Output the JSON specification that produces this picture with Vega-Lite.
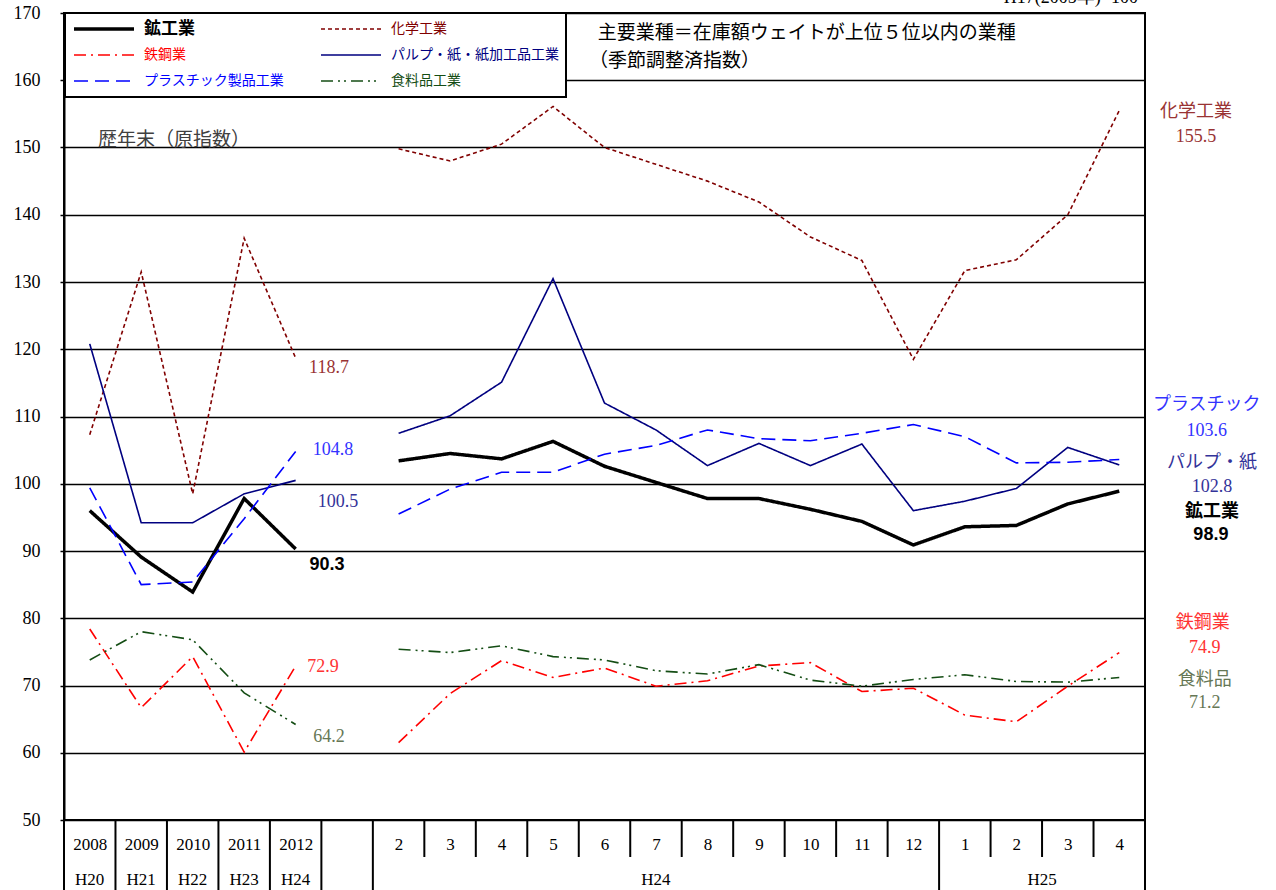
{
  "$schema": "https://vega.github.io/schema/vega-lite/v6.json",
  "width": 1081,
  "height": 807,
  "autosize": {"type": "none"},
  "padding": {"left": 64, "top": 13, "right": 131, "bottom": 70},
  "background": "white",
  "config": {"view": {"stroke": "black", "strokeWidth": 2}, "font": "Liberation Serif", "axis": {"labelFont": "Liberation Serif, Times New Roman, serif"}},
  "datasets": {
    "lines": [
      {"s":"鉱工業","g":"a","x":0,"v":96.0},{"s":"鉱工業","g":"a","x":1,"v":89.1},{"s":"鉱工業","g":"a","x":2,"v":83.9},{"s":"鉱工業","g":"a","x":3,"v":97.8},{"s":"鉱工業","g":"a","x":4,"v":90.3},
      {"s":"鉱工業","g":"m","x":6,"v":103.4},{"s":"鉱工業","g":"m","x":7,"v":104.5},{"s":"鉱工業","g":"m","x":8,"v":103.7},{"s":"鉱工業","g":"m","x":9,"v":106.3},{"s":"鉱工業","g":"m","x":10,"v":102.6},{"s":"鉱工業","g":"m","x":11,"v":100.2},{"s":"鉱工業","g":"m","x":12,"v":97.8},{"s":"鉱工業","g":"m","x":13,"v":97.8},{"s":"鉱工業","g":"m","x":14,"v":96.2},{"s":"鉱工業","g":"m","x":15,"v":94.4},{"s":"鉱工業","g":"m","x":16,"v":90.9},{"s":"鉱工業","g":"m","x":17,"v":93.6},{"s":"鉱工業","g":"m","x":18,"v":93.8},{"s":"鉱工業","g":"m","x":19,"v":97.0},{"s":"鉱工業","g":"m","x":20,"v":98.9},
      {"s":"化学工業","g":"a","x":0,"v":107.3},{"s":"化学工業","g":"a","x":1,"v":131.5},{"s":"化学工業","g":"a","x":2,"v":98.5},{"s":"化学工業","g":"a","x":3,"v":136.5},{"s":"化学工業","g":"a","x":4,"v":118.7},
      {"s":"化学工業","g":"m","x":6,"v":149.8},{"s":"化学工業","g":"m","x":7,"v":148.0},{"s":"化学工業","g":"m","x":8,"v":150.5},{"s":"化学工業","g":"m","x":9,"v":156.1},{"s":"化学工業","g":"m","x":10,"v":150.0},{"s":"化学工業","g":"m","x":11,"v":147.5},{"s":"化学工業","g":"m","x":12,"v":145.0},{"s":"化学工業","g":"m","x":13,"v":141.9},{"s":"化学工業","g":"m","x":14,"v":136.7},{"s":"化学工業","g":"m","x":15,"v":133.2},{"s":"化学工業","g":"m","x":16,"v":118.5},{"s":"化学工業","g":"m","x":17,"v":131.7},{"s":"化学工業","g":"m","x":18,"v":133.3},{"s":"化学工業","g":"m","x":19,"v":140.0},{"s":"化学工業","g":"m","x":20,"v":155.5},
      {"s":"鉄鋼業","g":"a","x":0,"v":78.4},{"s":"鉄鋼業","g":"a","x":1,"v":66.7},{"s":"鉄鋼業","g":"a","x":2,"v":74.3},{"s":"鉄鋼業","g":"a","x":3,"v":60.1},{"s":"鉄鋼業","g":"a","x":4,"v":72.9},
      {"s":"鉄鋼業","g":"m","x":6,"v":61.5},{"s":"鉄鋼業","g":"m","x":7,"v":68.8},{"s":"鉄鋼業","g":"m","x":8,"v":73.7},{"s":"鉄鋼業","g":"m","x":9,"v":71.2},{"s":"鉄鋼業","g":"m","x":10,"v":72.6},{"s":"鉄鋼業","g":"m","x":11,"v":69.9},{"s":"鉄鋼業","g":"m","x":12,"v":70.7},{"s":"鉄鋼業","g":"m","x":13,"v":72.9},{"s":"鉄鋼業","g":"m","x":14,"v":73.4},{"s":"鉄鋼業","g":"m","x":15,"v":69.1},{"s":"鉄鋼業","g":"m","x":16,"v":69.6},{"s":"鉄鋼業","g":"m","x":17,"v":65.6},{"s":"鉄鋼業","g":"m","x":18,"v":64.6},{"s":"鉄鋼業","g":"m","x":19,"v":69.9},{"s":"鉄鋼業","g":"m","x":20,"v":74.9},
      {"s":"パルプ・紙・紙加工品工業","g":"a","x":0,"v":120.8},{"s":"パルプ・紙・紙加工品工業","g":"a","x":1,"v":94.2},{"s":"パルプ・紙・紙加工品工業","g":"a","x":2,"v":94.2},{"s":"パルプ・紙・紙加工品工業","g":"a","x":3,"v":98.5},{"s":"パルプ・紙・紙加工品工業","g":"a","x":4,"v":100.5},
      {"s":"パルプ・紙・紙加工品工業","g":"m","x":6,"v":107.5},{"s":"パルプ・紙・紙加工品工業","g":"m","x":7,"v":110.1},{"s":"パルプ・紙・紙加工品工業","g":"m","x":8,"v":115.1},{"s":"パルプ・紙・紙加工品工業","g":"m","x":9,"v":130.5},{"s":"パルプ・紙・紙加工品工業","g":"m","x":10,"v":112.0},{"s":"パルプ・紙・紙加工品工業","g":"m","x":11,"v":108.0},{"s":"パルプ・紙・紙加工品工業","g":"m","x":12,"v":102.7},{"s":"パルプ・紙・紙加工品工業","g":"m","x":13,"v":106.0},{"s":"パルプ・紙・紙加工品工業","g":"m","x":14,"v":102.7},{"s":"パルプ・紙・紙加工品工業","g":"m","x":15,"v":105.9},{"s":"パルプ・紙・紙加工品工業","g":"m","x":16,"v":96.0},{"s":"パルプ・紙・紙加工品工業","g":"m","x":17,"v":97.4},{"s":"パルプ・紙・紙加工品工業","g":"m","x":18,"v":99.3},{"s":"パルプ・紙・紙加工品工業","g":"m","x":19,"v":105.4},{"s":"パルプ・紙・紙加工品工業","g":"m","x":20,"v":102.8},
      {"s":"プラスチック製品工業","g":"a","x":0,"v":99.4},{"s":"プラスチック製品工業","g":"a","x":1,"v":85.0},{"s":"プラスチック製品工業","g":"a","x":2,"v":85.4},{"s":"プラスチック製品工業","g":"a","x":3,"v":94.8},{"s":"プラスチック製品工業","g":"a","x":4,"v":104.8},
      {"s":"プラスチック製品工業","g":"m","x":6,"v":95.5},{"s":"プラスチック製品工業","g":"m","x":7,"v":99.2},{"s":"プラスチック製品工業","g":"m","x":8,"v":101.7},{"s":"プラスチック製品工業","g":"m","x":9,"v":101.7},{"s":"プラスチック製品工業","g":"m","x":10,"v":104.4},{"s":"プラスチック製品工業","g":"m","x":11,"v":105.7},{"s":"プラスチック製品工業","g":"m","x":12,"v":108.0},{"s":"プラスチック製品工業","g":"m","x":13,"v":106.7},{"s":"プラスチック製品工業","g":"m","x":14,"v":106.4},{"s":"プラスチック製品工業","g":"m","x":15,"v":107.5},{"s":"プラスチック製品工業","g":"m","x":16,"v":108.8},{"s":"プラスチック製品工業","g":"m","x":17,"v":107.0},{"s":"プラスチック製品工業","g":"m","x":18,"v":103.1},{"s":"プラスチック製品工業","g":"m","x":19,"v":103.2},{"s":"プラスチック製品工業","g":"m","x":20,"v":103.6},
      {"s":"食料品工業","g":"a","x":0,"v":73.8},{"s":"食料品工業","g":"a","x":1,"v":78.0},{"s":"食料品工業","g":"a","x":2,"v":76.8},{"s":"食料品工業","g":"a","x":3,"v":68.9},{"s":"食料品工業","g":"a","x":4,"v":64.2},
      {"s":"食料品工業","g":"m","x":6,"v":75.4},{"s":"食料品工業","g":"m","x":7,"v":74.9},{"s":"食料品工業","g":"m","x":8,"v":75.9},{"s":"食料品工業","g":"m","x":9,"v":74.3},{"s":"食料品工業","g":"m","x":10,"v":73.8},{"s":"食料品工業","g":"m","x":11,"v":72.2},{"s":"食料品工業","g":"m","x":12,"v":71.7},{"s":"食料品工業","g":"m","x":13,"v":73.1},{"s":"食料品工業","g":"m","x":14,"v":70.8},{"s":"食料品工業","g":"m","x":15,"v":69.9},{"s":"食料品工業","g":"m","x":16,"v":70.9},{"s":"食料品工業","g":"m","x":17,"v":71.6},{"s":"食料品工業","g":"m","x":18,"v":70.6},{"s":"食料品工業","g":"m","x":19,"v":70.5},{"s":"食料品工業","g":"m","x":20,"v":71.2}
    ],
    "nc": [
      {"t":"118.7","k":"C","x":4.648,"y":117.21},
      {"t":"104.8","k":"PL","x":4.725,"y":105.02},
      {"t":"100.5","k":"P","x":4.823,"y":97.29},
      {"t":"72.9","k":"S","x":4.531,"y":72.75},
      {"t":"64.2","k":"F","x":4.648,"y":62.34},
      {"t":"化学工業","k":"C","x":21.49,"y":155.28},
      {"t":"155.5","k":"C","x":21.49,"y":151.56},
      {"t":"プラスチック","k":"PL","x":21.70,"y":111.71},
      {"t":"103.6","k":"PL","x":21.70,"y":107.84},
      {"t":"パルプ・紙","k":"P","x":21.80,"y":103.09},
      {"t":"102.8","k":"P","x":21.80,"y":99.52},
      {"t":"鉄鋼業","k":"S","x":21.62,"y":79.29},
      {"t":"74.9","k":"S","x":21.66,"y":75.58},
      {"t":"食料品","k":"F","x":21.66,"y":70.82},
      {"t":"71.2","k":"F","x":21.66,"y":67.40},
      {"t":"H17(2005年)=100","k":"K","x":19.06,"y":172.2}
    ],
    "nb": [
      {"t":"90.3","k":"K","x":4.609,"y":87.92},
      {"t":"鉱工業","k":"K","x":21.80,"y":95.80},
      {"t":"98.9","k":"K","x":21.78,"y":92.38}
    ],
    "nl": [
      {"t":"歴年末（原指数）","k":"N","x":0.16,"y":151.12},
      {"t":"主要業種＝在庫額ウェイトが上位５位以内の業種","k":"K","x":9.87,"y":167.1},
      {"t":"（季節調整済指数）","k":"K","x":9.70,"y":162.9}
    ],
    "eras": [
      {"t":"H20","x":0},{"t":"H21","x":1},{"t":"H22","x":2},{"t":"H23","x":3},{"t":"H24","x":4},{"t":"H24","x":11},{"t":"H25","x":18.5}
    ],
    "shortdiv": [{"b":6.5},{"b":7.5},{"b":8.5},{"b":9.5},{"b":10.5},{"b":11.5},{"b":12.5},{"b":13.5},{"b":14.5},{"b":15.5},{"b":17.5},{"b":18.5},{"b":19.5}],
    "longdiv": [{"b":-0.5},{"b":0.5},{"b":1.5},{"b":2.5},{"b":3.5},{"b":4.5},{"b":5.5},{"b":16.5},{"b":20.5}]
  },
  "layer": [
    {
      "data": {"name": "lines"},
      "mark": {"type": "line", "strokeJoin": "miter", "strokeCap": "butt"},
      "encoding": {
        "x": {"field": "x", "type": "quantitative",
          "scale": {"domain": [-0.5, 20.5], "nice": false, "zero": false},
          "axis": {"values": [0,1,2,3,4,6,7,8,9,10,11,12,13,14,15,16,17,18,19,20],
            "labelExpr": "datum.value < 5 ? '' + (2008 + datum.value) : (datum.value <= 16 ? '' + (datum.value - 4) : '' + (datum.value - 16))",
            "ticks": false, "domain": false, "grid": false, "title": null,
            "labelFont": "Liberation Serif, Times New Roman, serif", "labelFontSize": 17, "labelColor": "black",
            "labelPadding": 16, "labelFlush": false, "labelOverlap": false}},
        "y": {"field": "v", "type": "quantitative",
          "scale": {"domain": [50, 170], "nice": false, "zero": false},
          "axis": {"values": [50,60,70,80,90,100,110,120,130,140,150,160,170],
            "grid": true, "gridColor": "black", "gridWidth": 1.5, "gridOpacity": 1,
            "tickColor": "black", "tickSize": 4, "tickWidth": 1.5,
            "domain": true, "domainColor": "black", "domainWidth": 2,
            "labelFont": "Liberation Serif, Times New Roman, serif", "labelFontSize": 18, "labelColor": "black",
            "labelPadding": 20, "labelOverlap": false, "title": null}},
        "stroke": {"field": "s", "type": "nominal",
          "scale": {"domain": ["鉱工業","鉄鋼業","プラスチック製品工業","化学工業","パルプ・紙・紙加工品工業","食料品工業"],
            "range": ["#000000","#FF0000","#0000FF","#800000","#000080","#144D14"]},
          "legend": {"orient": "none", "legendX": 1, "legendY": 0, "direction": "vertical", "columns": 2,
            "title": null, "strokeColor": "black", "fillColor": "white", "padding": 7,
            "symbolType": "stroke", "symbolSize": 3600, "clipHeight": 18,
            "labelFont": "Noto Sans CJK JP", "labelFontSize": 14, "labelOffset": 8, "labelLimit": 300,
            "columnPadding": 35, "rowPadding": 8,
            "encode": {
              "legend": {"update": {"strokeWidth": {"value": 2}}},
              "labels": {"update": {
                "fill": {"scale": "stroke", "field": "value"},
                "fontWeight": {"signal": "datum.value === '鉱工業' ? 'bold' : 'normal'"},
                "fontSize": {"signal": "datum.value === '鉱工業' ? 17 : 14"}}}
            }}},
        "strokeDash": {"field": "s", "type": "nominal",
          "scale": {"domain": ["鉱工業","鉄鋼業","プラスチック製品工業","化学工業","パルプ・紙・紙加工品工業","食料品工業"],
            "range": [[1,0],[12,5,2,5],[14,7],[4,3],[1,0],[12,5,2,4,2,5]]}},
        "strokeWidth": {"field": "s", "type": "nominal",
          "scale": {"type": "ordinal", "domain": ["鉱工業","鉄鋼業","プラスチック製品工業","化学工業","パルプ・紙・紙加工品工業","食料品工業"],
            "range": [3.5,1.6,1.6,1.6,1.6,1.6]}},
        "detail": {"field": "g"}
      }
    },
    {
      "mark": {"type": "rule", "color": "#FF0000", "strokeWidth": 3, "strokeDash": [3,3]},
      "encoding": {"x": {"datum": 5.5}, "y": {"datum": 48.8}, "y2": {"datum": 170}}
    },
    {
      "mark": {"type": "rect", "fill": "white", "stroke": "black", "strokeWidth": 2},
      "encoding": {"x": {"datum": 9.23}, "x2": {"datum": 20.5}, "y": {"datum": 160}, "y2": {"datum": 170}}
    },
    {
      "data": {"name": "shortdiv"},
      "mark": {"type": "rule", "color": "black", "strokeWidth": 2},
      "encoding": {"x": {"field": "b", "type": "quantitative"}, "y": {"datum": 50}, "y2": {"datum": 44.5}}
    },
    {
      "data": {"name": "longdiv"},
      "mark": {"type": "rule", "color": "black", "strokeWidth": 2},
      "encoding": {"x": {"field": "b", "type": "quantitative"}, "y": {"datum": 50}, "y2": {"datum": 37}}
    },
    {
      "data": {"name": "eras"},
      "mark": {"type": "text", "font": "Liberation Serif", "fontSize": 17, "color": "black", "baseline": "middle", "align": "center"},
      "encoding": {"x": {"field": "x", "type": "quantitative"}, "y": {"datum": 41.08}, "text": {"field": "t"}}
    },
    {
      "data": {"name": "nc"},
      "mark": {"type": "text", "font": "Liberation Serif, Noto Sans CJK JP", "fontSize": 18, "baseline": "middle", "align": "center"},
      "encoding": {
        "x": {"field": "x", "type": "quantitative"},
        "y": {"field": "y", "type": "quantitative"},
        "text": {"field": "t"},
        "color": {"field": "k", "type": "nominal", "legend": null,
          "scale": {"domain": ["K","C","S","P","PL","F","N"], "range": ["#000000","#993333","#FF3333","#333399","#3333FF","#667755","#404040"]}}
      }
    },
    {
      "data": {"name": "nb"},
      "mark": {"type": "text", "font": "Liberation Sans, Noto Sans CJK JP", "fontSize": 18, "fontWeight": "bold", "baseline": "middle", "align": "center"},
      "encoding": {
        "x": {"field": "x", "type": "quantitative"},
        "y": {"field": "y", "type": "quantitative"},
        "text": {"field": "t"},
        "color": {"field": "k", "type": "nominal", "legend": null}
      }
    },
    {
      "data": {"name": "nl"},
      "mark": {"type": "text", "font": "Liberation Serif, Noto Sans CJK JP", "fontSize": 19, "baseline": "middle", "align": "left"},
      "encoding": {
        "x": {"field": "x", "type": "quantitative"},
        "y": {"field": "y", "type": "quantitative"},
        "text": {"field": "t"},
        "color": {"field": "k", "type": "nominal", "legend": null}
      }
    }
  ]
}
